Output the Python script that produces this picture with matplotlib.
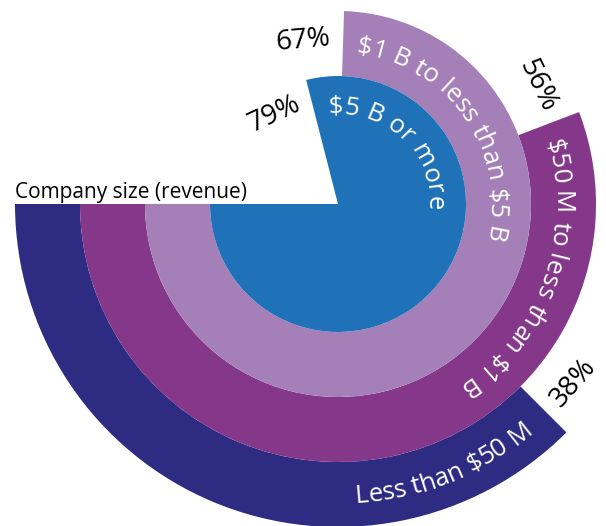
import matplotlib
matplotlib.use("Agg")
import matplotlib.pyplot as plt
from matplotlib.patches import Wedge
import numpy as np

plt.rcParams["font.family"] = ["Open Sans", "DejaVu Sans"]

# data (outer ring first)
sizes = ["Less than $50 M", "$50 M to less than $1 B",
         "$1 B to less than $5 B", "$5 B or more"]
share_labels = ["38%", "56%", "67%", "79%"]
arc_share = [37.5, 55.8, 74.5, 79.0]   # sweep as drawn, % of full circle
colors = ["#2E2B83", "#85378A", "#A57FB7", "#1F71B8"]

W, H = 606, 526
CX, CY = 338, 322
RING = 65
R_OUT = 323

fig = plt.figure(figsize=(W / 100, H / 100), dpi=100)
ax = fig.add_axes([0, 0, 1, 1])
ax.set_xlim(0, W)
ax.set_ylim(0, H)
ax.axis("off")
renderer = fig.canvas.get_renderer()


def text_width(s, size):
    t = ax.text(0, 0, s + "|", fontsize=size, parse_math=False)
    w = t.get_window_extent(renderer).width
    t.remove()
    return w


def curved_text(label, r_mid, center_deg, size, outward=True):
    bar = text_width("", size)
    edges = [text_width(label[:i], size) - bar for i in range(len(label) + 1)]
    cap = size * 100 / 72 * 0.71
    if outward:
        rb, sign = r_mid - cap / 2, -1
    else:
        rb, sign = r_mid + cap / 2, 1
    span = edges[-1] / rb
    start = np.radians(center_deg) - sign * span / 2
    for i, ch in enumerate(label):
        if ch == " ":
            continue
        mid = (edges[i] + edges[i + 1]) / 2
        a = start + sign * mid / rb
        rot = np.degrees(a) - 90 if outward else np.degrees(a) + 90
        ax.text(CX + rb * np.cos(a), CY + rb * np.sin(a), ch, fontsize=size,
                color="white", rotation=rot, rotation_mode="anchor",
                ha="center", va="baseline", parse_math=False)


# rings
text_pos = [(-68, False), (-20, True), (34.5, True), (46, True)]
lab_off = [27, 26, 26, 18]
for i, (name, v) in enumerate(zip(sizes, arc_share)):
    r = R_OUT - i * RING
    end = 180 + v * 3.6
    ax.add_patch(Wedge((CX, CY), r, 180, end, width=RING if i < 3 else None,
                       facecolor=colors[i], edgecolor="none"))
    r_mid = r - RING / 2 if i < 3 else 99
    center, outward = text_pos[i]
    curved_text(name, r_mid, center, 18.5, outward)

    # percent label just past the end of the arc
    lr = r - lab_off[i]
    delta = np.degrees(40 / lr)
    a = np.radians(end + delta)
    rot = (end + delta / 2 - 90 + 90) % 180 - 90
    ax.text(CX + lr * np.cos(a), CY + lr * np.sin(a), share_labels[i],
            fontsize=20, color="black", rotation=rot, rotation_mode="anchor",
            ha="center", va="center")

ax.text(15, 328, "Company size (revenue)", fontsize=15, color="black",
        ha="left", va="baseline", parse_math=False)

fig.savefig("out.png", dpi=100, facecolor="white")
